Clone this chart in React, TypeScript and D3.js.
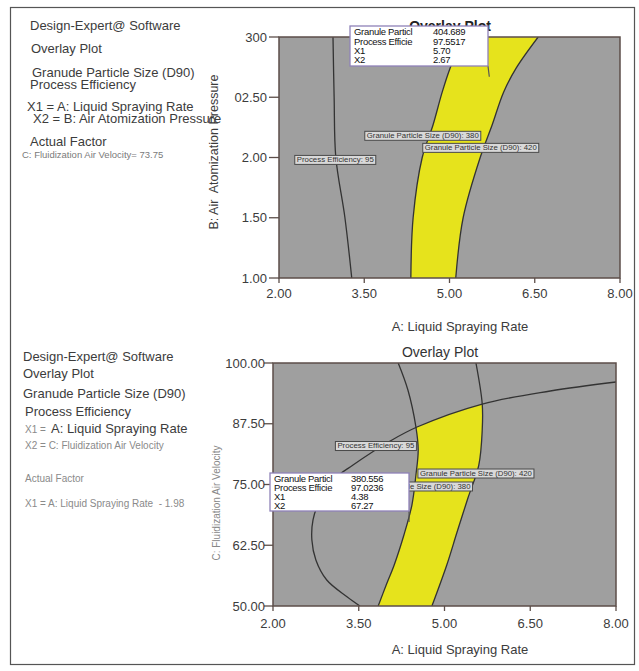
import React from "react";
import * as d3 from "d3";

type P = [number, number];

// ---------- data ----------
const xTicks = [2, 3.5, 5, 6.5, 8];
const xTickLabels = ["2.00", "3.50", "5.00", "6.50", "8.00"];
const topYTicks = [1, 1.5, 2, 2.5, 3];
const topYTickLabels = ["1.00", "1.50", "2.00", "02.50", "300"];
const botYTicks = [50, 62.5, 75, 87.5, 100];
const botYTickLabels = ["50.00", "62.50", "75.00", "87.50", "100.00"];

// top plot contours (A, B)
const topPE95: P[] = [[2.95, 3.0], [2.97, 2.5], [3.0, 2.0], [3.16, 1.5], [3.28, 1.0]];
const topD90_380: P[] = [[5.24, 3.0], [5.01, 2.74], [4.87, 2.54], [4.71, 2.27], [4.52, 2.0], [4.36, 1.5], [4.32, 1.0]];
const topD90_420: P[] = [[6.56, 3.0], [6.17, 2.74], [5.95, 2.54], [5.75, 2.27], [5.54, 2.0], [5.24, 1.5], [5.11, 1.0]];

// bottom plot contours (A, C)
const botPE95: P[] = [[8.0, 96.09], [6.85, 94.24], [5.66, 91.56], [4.52, 86.83], [4.05, 83.95], [3.4, 79.01], [3.05, 75.93], [2.82, 71.81], [2.7, 67.7], [2.68, 63.58], [2.75, 59.47], [2.94, 55.35], [3.3, 51.85], [3.52, 50.0]];
const botD90_380: P[] = [[4.19, 100], [4.36, 94.44], [4.5, 86.83], [4.54, 82.1], [4.5, 76.95], [4.43, 70.78], [4.29, 64.61], [4.12, 58.44], [3.98, 54.32], [3.84, 50]];
const botD90_420: P[] = [[5.55, 100], [5.66, 91.56], [5.66, 86.21], [5.6, 79.01], [5.41, 72.22], [5.22, 65.23], [5.04, 58.44], [4.78, 50]];

// contour labels [text, A, Y]
const topContourLabels: [string, number, number][] = [
  ["Granule Particle Size (D90): 380", 4.53, 2.18],
  ["Granule Particle Size (D90): 420", 5.55, 2.08],
  ["Process Efficiency: 95", 2.99, 1.98],
];
const botContourLabels: [string, number, number][] = [
  ["Process Efficiency: 95", 3.8, 82.92],
  ["Granule Particle Size (D90): 420", 5.55, 77.26],
  ["Granule Particle Size (D90): 380", 4.475, 74.59],
];

// flags
const flagNames = ["Granule Particl", "Process Efficie", "X1", "X2"];
const topFlagValues = ["404.689", "97.5517", "5.70", "2.67"];
const topFlagPoint: P = [5.7, 2.67];
const botFlagValues = ["380.556", "97.0236", "4.38", "67.27"];
const botFlagPoint: P = [4.38, 67.27];

const topInfo = [
  "Design-Expert@ Software",
  "Overlay Plot",
  "Granude Particle Size (D90)",
  "Process Efficiency",
  "X1 = A: Liquid Spraying Rate",
  "X2 = B: Air Atomization Pressure",
  "Actual Factor",
  "C: Fluidization Air Velocity= 73.75",
];
const botInfo = [
  "Design-Expert@ Software",
  "Overlay Plot",
  "Granude Particle Size (D90)",
  "Process Efficiency",
  "A: Liquid Spraying Rate",
  "X2 = C: Fluidization Air Velocity",
  "Actual Factor",
  "X1 = A: Liquid Spraying Rate  - 1.98",
];

// ---------- styles ----------
const FONT = "Arial, 'Liberation Sans', sans-serif";
const GRAY = "#9f9f9f";
const YELLOW = "#e6e31c";
const AXIS = "#5c4e49";
const CONTOUR = "#333333";
const TXT = "#3c3c3c";

function ContourLabel({ text, cx, cy }: { text: string; cx: number; cy: number }) {
  const w = text.length * 3.5 + 4;
  return (
    <g>
      <rect x={cx - w / 2} y={cy - 4.5} width={w} height={9} fill="#d9d9d9" stroke="#4a4a4a" strokeWidth={1} />
      <text x={cx - w / 2 + 2} y={cy + 2.4} fontSize={6.8} fill="#333" fontFamily={FONT}
        textLength={w - 4} lengthAdjust="spacingAndGlyphs">{text}</text>
    </g>
  );
}

function Flag({ x0, y0, w, h, values, px, py, valX, rows }: any) {
  return (
    <g>
      <line x1={x0 + w} y1={y0 + h} x2={px} y2={py} stroke="#555" strokeWidth={1.2} />
      <rect x={x0} y={y0} width={w} height={h} fill="#ffffff" stroke="#8f82b8" strokeWidth={1.3} />
      {flagNames.map((n, i) => (
        <g key={n}>
          <text x={x0 + 4} y={rows[i]} fontSize={9.5} fill="#111" fontFamily={FONT} letterSpacing={-0.3}>{n}</text>
          <text x={valX} y={rows[i]} fontSize={9.5} fill="#111" fontFamily={FONT} letterSpacing={-0.3}>{values[i]}</text>
        </g>
      ))}
    </g>
  );
}

export default function App() {
  const cr = d3.curveCatmullRom.alpha(0.5);

  // top scales
  const xT = d3.scaleLinear().domain([2, 8]).range([279, 620]);
  const yT = d3.scaleLinear().domain([1, 3]).range([278, 37]);
  const lineT = d3.line<P>().x((d) => xT(d[0])).y((d) => yT(d[1])).curve(cr);

  // bottom scales
  const xB = d3.scaleLinear().domain([2, 8]).range([273, 616]);
  const yB = d3.scaleLinear().domain([50, 100]).range([606, 363]);
  const lineB = d3.line<P>().x((d) => xB(d[0])).y((d) => yB(d[1])).curve(cr);

  const band = (ln: any, a: P[], b: P[]) => {
    const d1 = ln(a) as string;
    const d2 = ln(b.slice().reverse()) as string;
    return d1 + "L" + d2.slice(1) + "Z";
  };

  const topBand = band(lineT, topD90_380, topD90_420);
  const botBand = band(lineB, botD90_380, botD90_420);
  const pe = lineB(botPE95) as string;
  const peRegion = pe + `L${xB(8)},${yB(50)}Z`;

  const tW = xT(8) - xT(2), tH = yT(1) - yT(3);
  const bW = xB(8) - xB(2), bH = yB(50) - yB(100);

  return (
    <svg width={639} height={671} style={{ position: "absolute", left: 0, top: 0, background: "#fff" }}
      fontFamily={FONT}>
      <defs>
        <clipPath id="clipTop"><rect x={xT(2)} y={yT(3)} width={tW} height={tH} /></clipPath>
        <clipPath id="clipBot"><rect x={xB(2)} y={yB(100)} width={bW} height={bH} /></clipPath>
        <clipPath id="clipPE"><path d={peRegion} /></clipPath>
      </defs>
      <rect x={10.5} y={7.5} width={624} height={657} fill="none" stroke="#555" strokeWidth={1.2} />

      {/* ---------- top info text ---------- */}
      <g fill={TXT} fontSize={13}>
        <text x={30} y={30}>{topInfo[0]}</text>
        <text x={31} y={53}>{topInfo[1]}</text>
        <text x={32} y={77}>{topInfo[2]}</text>
        <text x={30} y={89}>{topInfo[3]}</text>
        <text x={27} y={111}>{topInfo[4]}</text>
        <text x={33} y={123}>{topInfo[5]}</text>
        <text x={30} y={146}>{topInfo[6]}</text>
        <text x={22} y={158} fontSize={9.5} fill="#7a7a7a">{topInfo[7]}</text>
      </g>

      {/* ---------- top plot ---------- */}
      <text x={450} y={31} fontSize={14} fill="#222" textAnchor="middle" fontWeight="bold">Overlay Plot</text>
      <rect x={xT(2)} y={yT(3)} width={tW} height={tH} fill={GRAY} />
      <g clipPath="url(#clipTop)">
        <path d={topBand} fill={YELLOW} />
        {[topPE95, topD90_380, topD90_420].map((c, i) => (
          <path key={i} d={lineT(c) as string} fill="none" stroke={CONTOUR} strokeWidth={1.3} />
        ))}
      </g>
      <rect x={xT(2)} y={yT(3)} width={tW} height={tH} fill="none" stroke={AXIS} strokeWidth={1.5} />
      {topYTicks.map((t, i) => (
        <g key={t}>
          <line x1={xT(2) - 10} x2={xT(2)} y1={yT(t)} y2={yT(t)} stroke={AXIS} strokeWidth={1.3} />
          <text x={xT(2) - 12} y={yT(t) + 4.5} textAnchor="end" fontSize={13} fill={TXT}>{topYTickLabels[i]}</text>
        </g>
      ))}
      {xTicks.map((t, i) => (
        <g key={t}>
          <line x1={xT(t)} x2={xT(t)} y1={yT(1)} y2={yT(1) + 5} stroke={AXIS} strokeWidth={1.3} />
          <text x={xT(t)} y={298} textAnchor="middle" fontSize={13} fill={TXT}>{xTickLabels[i]}</text>
        </g>
      ))}
      <text x={460} y={331} textAnchor="middle" fontSize={13} fill={TXT}>A: Liquid Spraying Rate</text>
      <text transform="translate(218,152) rotate(-90)" textAnchor="middle" fontSize={12.5} fill={TXT}
        style={{ whiteSpace: "pre" }}>{"B: Air  Atomization Pressure"}</text>
      {topContourLabels.map(([t, a, b]) => (
        <ContourLabel key={t} text={t} cx={xT(a)} cy={yT(b)} />
      ))}
      <Flag x0={350} y0={26} w={138} h={40} values={topFlagValues}
        px={xT(topFlagPoint[0])} py={yT(topFlagPoint[1])} valX={433} rows={[35, 44.5, 54, 63]} />

      {/* ---------- bottom info text ---------- */}
      <g fill={TXT} fontSize={13}>
        <text x={23} y={361}>{botInfo[0]}</text>
        <text x={23} y={378}>{botInfo[1]}</text>
        <text x={23} y={398}>{botInfo[2]}</text>
        <text x={25} y={416}>{botInfo[3]}</text>
        <text x={25} y={433} fontSize={10} fill="#8a8a8a">X1 =</text>
        <text x={51} y={433}>{botInfo[4]}</text>
        <text x={25} y={449} fontSize={10} fill="#8a8a8a">{botInfo[5]}</text>
        <text x={25} y={482} fontSize={10} fill="#8a8a8a">{botInfo[6]}</text>
        <text x={25} y={507} fontSize={10} fill="#8a8a8a" style={{ whiteSpace: "pre" }}>{botInfo[7]}</text>
      </g>

      {/* ---------- bottom plot ---------- */}
      <text x={440} y={357} fontSize={14} fill="#333" textAnchor="middle">Overlay Plot</text>
      <rect x={xB(2)} y={yB(100)} width={bW} height={bH} fill={GRAY} />
      <g clipPath="url(#clipBot)">
        <g clipPath="url(#clipPE)">
          <path d={botBand} fill={YELLOW} />
        </g>
        {[botPE95, botD90_380, botD90_420].map((c, i) => (
          <path key={i} d={lineB(c) as string} fill="none" stroke={CONTOUR} strokeWidth={1.3} />
        ))}
      </g>
      <rect x={xB(2)} y={yB(100)} width={bW} height={bH} fill="none" stroke={AXIS} strokeWidth={1.5} />
      {botYTicks.map((t, i) => (
        <g key={t}>
          <line x1={xB(2) - 9} x2={xB(2)} y1={yB(t)} y2={yB(t)} stroke={AXIS} strokeWidth={1.3} />
          <text x={xB(2) - 8} y={yB(t) + 4.5} textAnchor="end" fontSize={13} fill={TXT}>{botYTickLabels[i]}</text>
        </g>
      ))}
      {xTicks.map((t, i) => (
        <g key={t}>
          <line x1={xB(t)} x2={xB(t)} y1={yB(50)} y2={yB(50) + 5} stroke={AXIS} strokeWidth={1.3} />
          <text x={xB(t)} y={628} textAnchor="middle" fontSize={13} fill={TXT}>{xTickLabels[i]}</text>
        </g>
      ))}
      <text x={460} y={654} textAnchor="middle" fontSize={13} fill={TXT}>A: Liquid Spraying Rate</text>
      <text transform="translate(220,503) rotate(-90)" textAnchor="middle" fontSize={10} fill="#888">C: Fluidization Air Velocity</text>
      {botContourLabels.map(([t, a, c]) => (
        <ContourLabel key={t} text={t} cx={xB(a)} cy={yB(c)} />
      ))}
      <Flag x0={270} y0={473} w={139} h={38} values={botFlagValues}
        px={xB(botFlagPoint[0])} py={yB(botFlagPoint[1])} valX={351} rows={[481.5, 490.5, 499.5, 508.5]} />
    </svg>
  );
}
